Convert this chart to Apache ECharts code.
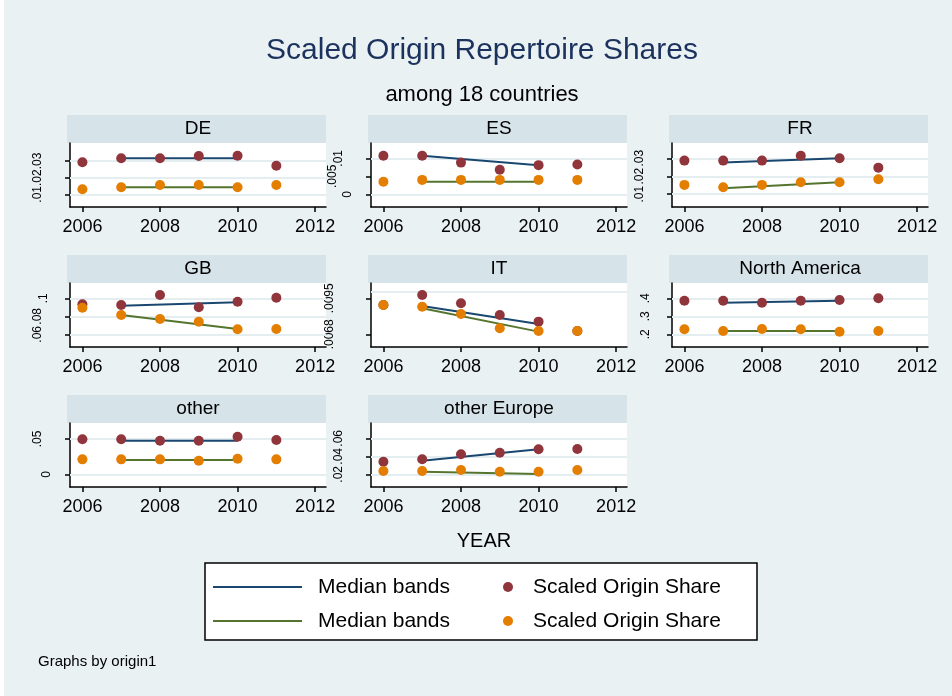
<!DOCTYPE html>
<html><head><meta charset="utf-8">
<script src="https://cdn.jsdelivr.net/npm/echarts@6/dist/echarts.min.js"></script>
<style>html,body{margin:0;padding:0;background:#fff}#c{width:952px;height:696px}</style>
</head><body><div id="c"></div>
<script>
// ---------- data ----------
const years = [2006, 2007, 2008, 2009, 2010, 2011];
const bandYears = [2007, 2010];
const xTicks = [2006, 2008, 2010, 2012];
const xRange = [2005.68, 2012.28];

const DE_share1 = [0.0292, 0.0316, 0.0316, 0.0330, 0.0332, 0.0272];
const DE_share2 = [0.0130, 0.0142, 0.0156, 0.0156, 0.0142, 0.0156];
const DE_band1 = [0.0316, 0.0316];
const DE_band2 = [0.0142, 0.0142];
const DE_ticks = [0.01, 0.02, 0.03];
const DE_range = [0.0024, 0.0408];

const ES_share1 = [0.0107, 0.0107, 0.0088, 0.0068, 0.0081, 0.0083];
const ES_share2 = [0.0035, 0.0040, 0.0040, 0.0040, 0.0040, 0.0040];
const ES_band1 = [0.0107, 0.0081];
const ES_band2 = [0.0035, 0.0035];
const ES_ticks = [0, 0.005, 0.01];
const ES_range = [-0.00353, 0.01425];

const FR_share1 = [0.0287, 0.0287, 0.0287, 0.0314, 0.0300, 0.0248];
const FR_share2 = [0.0152, 0.0139, 0.0152, 0.0167, 0.0167, 0.0183];
const FR_band1 = [0.0276, 0.0300];
const FR_band2 = [0.0133, 0.0167];
const FR_ticks = [0.01, 0.02, 0.03];
const FR_range = [0.0029, 0.0385];

const GB_share1 = [0.0933, 0.0926, 0.1037, 0.0900, 0.0962, 0.1007];
const GB_share2 = [0.0896, 0.0814, 0.0770, 0.0740, 0.0656, 0.0659];
const GB_band1 = [0.0918, 0.0956];
const GB_band2 = [0.0814, 0.0659];
const GB_ticks = [0.06, 0.08, 0.1];
const GB_range = [0.0459, 0.117];

const IT_share1 = [0.00900, 0.00975, 0.00913, 0.00825, 0.00775, 0.00705];
const IT_share2 = [0.00900, 0.00887, 0.00832, 0.00725, 0.00705, 0.00705];
const IT_band1 = [0.00892, 0.00757];
const IT_band2 = [0.00875, 0.00700];
const IT_ticks = [0.0068, 0.0095];
const IT_range = [0.005847, 0.010648];

const NA_share1 = [0.3867, 0.3867, 0.3756, 0.3867, 0.3906, 0.4000];
const NA_share2 = [0.2278, 0.2183, 0.2294, 0.2278, 0.2144, 0.2183];
const NA_band1 = [0.3756, 0.3867];
const NA_band2 = [0.2183, 0.2183];
const NA_ticks = [0.2, 0.3, 0.4];
const NA_range = [0.1294, 0.485];

const OT_share1 = [0.0496, 0.0496, 0.0476, 0.0476, 0.0533, 0.0486];
const OT_share2 = [0.0212, 0.0212, 0.0212, 0.0193, 0.0221, 0.0212];
const OT_band1 = [0.0476, 0.0476];
const OT_band2 = [0.0203, 0.0203];
const OT_ticks = [0, 0.05];
const OT_range = [-0.018, 0.0727];

const OE_share1 = [0.0340, 0.0367, 0.0422, 0.0440, 0.0478, 0.0481];
const OE_share2 = [0.0237, 0.0237, 0.0248, 0.0229, 0.0229, 0.0248];
const OE_band1 = [0.0351, 0.0478];
const OE_band2 = [0.0229, 0.0203];
const OE_ticks = [0.02, 0.04, 0.06];
const OE_range = [0.0059, 0.077];

const panels = [
  {name: 'DE', s1: DE_share1, s2: DE_share2, b1: DE_band1, b2: DE_band2, ticks: DE_ticks, range: DE_range},
  {name: 'ES', s1: ES_share1, s2: ES_share2, b1: ES_band1, b2: ES_band2, ticks: ES_ticks, range: ES_range},
  {name: 'FR', s1: FR_share1, s2: FR_share2, b1: FR_band1, b2: FR_band2, ticks: FR_ticks, range: FR_range},
  {name: 'GB', s1: GB_share1, s2: GB_share2, b1: GB_band1, b2: GB_band2, ticks: GB_ticks, range: GB_range},
  {name: 'IT', s1: IT_share1, s2: IT_share2, b1: IT_band1, b2: IT_band2, ticks: IT_ticks, range: IT_range},
  {name: 'North America', s1: NA_share1, s2: NA_share2, b1: NA_band1, b2: NA_band2, ticks: NA_ticks, range: NA_range},
  {name: 'other', s1: OT_share1, s2: OT_share2, b1: OT_band1, b2: OT_band2, ticks: OT_ticks, range: OT_range},
  {name: 'other Europe', s1: OE_share1, s2: OE_share2, b1: OE_band1, b2: OE_band2, ticks: OE_ticks, range: OE_range}
];

// ---------- layout / style ----------
const FONT = 'Liberation Sans, Arial, Helvetica, sans-serif';
const colX = [70, 371, 672];
const rowY = [143, 283, 423];
const PW = 256, PH = 64;
const C_NAVY = '#1a476f', C_MAROON = '#90353b', C_GREEN = '#55752f', C_ORANGE = '#e37e00';
const GRID_LINE = '#e4edf0';

function fmtY(v) {
  let s = String(+v.toPrecision(6));
  s = s.replace(/^0\./, '.').replace(/^-0\./, '-.');
  return s;
}
// rotated labels shift left by their own length (Stata-like placement)
const richY = {};
const padByLen = {1: 7, 2: 10, 3: 16, 4: 22, 5: 25};
for (const k in padByLen) richY['l' + k] = {fontSize: 12, fontFamily: FONT, color: '#000', padding: [0, 0, padByLen[k], 0]};

const grids = [], xAxes = [], yAxes = [], series = [], graphics = [];

graphics.push({type: 'rect', shape: {x: 0, y: 0, width: 4, height: 696}, style: {fill: '#ffffff'}, silent: true});

panels.forEach((p, i) => {
  const c = i % 3, r = Math.floor(i / 3);
  const left = colX[c], top = rowY[r];
  grids.push({left: left, top: top, width: PW, height: PH, show: true, backgroundColor: '#ffffff', borderWidth: 0, containLabel: false});
  graphics.push({type: 'rect', shape: {x: left - 3, y: top - 28, width: PW + 3, height: 28}, style: {fill: '#d6e3e9'}, silent: true});
  graphics.push({type: 'text', x: left + PW / 2, y: top - 14, style: {text: p.name, fill: '#000', font: '19px ' + FONT, align: 'center', verticalAlign: 'middle'}, silent: true});
  xAxes.push({
    gridIndex: i, type: 'value', min: xRange[0], max: xRange[1],
    axisLine: {show: true, onZero: false, lineStyle: {color: '#000', width: 1.5}},
    axisTick: {show: true, length: 5, customValues: xTicks, lineStyle: {color: '#000', width: 1.5}},
    axisLabel: {customValues: xTicks, formatter: v => String(v), fontSize: 18, fontFamily: FONT, color: '#000', margin: 11,
      showMinLabel: true, showMaxLabel: true},
    splitLine: {show: false}
  });
  // main y axis (line only)
  const yIdx = yAxes.length;
  yAxes.push({
    gridIndex: i, type: 'value', position: 'left', min: p.range[0], max: p.range[1],
    axisLine: {show: true, onZero: false, lineStyle: {color: '#000', width: 1.5}},
    axisTick: {show: false}, axisLabel: {show: false}, splitLine: {show: false}
  });
  // one label axis per tick so that overlapping rotated labels all stay visible
  p.ticks.forEach(t => {
    yAxes.push({
      gridIndex: i, type: 'value', position: 'left', min: p.range[0], max: p.range[1],
      axisLine: {show: false, onZero: false},
      axisTick: {show: true, length: 5, customValues: [t], lineStyle: {color: '#000', width: 1.5}},
      axisLabel: {
        customValues: [t], rotate: 90, align: 'center', verticalAlign: 'bottom', margin: 10,
        formatter: v => { const s = fmtY(v); return '{l' + s.length + '|' + s + '}'; },
        rich: richY, fontSize: 12, fontFamily: FONT, color: '#000'
      },
      splitLine: {show: false}
    });
  });
  // gridlines at tick values
  series.push({
    type: 'line', xAxisIndex: i, yAxisIndex: yIdx, data: [], silent: true, z: 1,
    markLine: {silent: true, z: 1, symbol: 'none', label: {show: false}, animation: false,
      lineStyle: {color: GRID_LINE, width: 2, type: 'solid'},
      data: p.ticks.map(t => ({yAxis: t}))}
  });
  series.push({
    name: 'Median bands|1', type: 'line', xAxisIndex: i, yAxisIndex: yIdx,
    data: bandYears.map((y, k) => [y, p.b1[k]]), symbol: 'none', z: 2,
    lineStyle: {color: C_NAVY, width: 2}, itemStyle: {color: C_NAVY}
  });
  series.push({
    name: 'Scaled Origin Share|1', type: 'scatter', xAxisIndex: i, yAxisIndex: yIdx,
    data: years.map((y, k) => [y, p.s1[k]]), symbol: 'circle', symbolSize: 10, z: 2,
    itemStyle: {color: C_MAROON, opacity: 1}
  });
  series.push({
    name: 'Median bands|2', type: 'line', xAxisIndex: i, yAxisIndex: yIdx,
    data: bandYears.map((y, k) => [y, p.b2[k]]), symbol: 'none', z: 2,
    lineStyle: {color: C_GREEN, width: 2}, itemStyle: {color: C_GREEN}
  });
  series.push({
    name: 'Scaled Origin Share|2', type: 'scatter', xAxisIndex: i, yAxisIndex: yIdx,
    data: years.map((y, k) => [y, p.s2[k]]), symbol: 'circle', symbolSize: 10, z: 2,
    itemStyle: {color: C_ORANGE, opacity: 1}
  });
});

// legend box
graphics.push({type: 'rect', shape: {x: 205, y: 563, width: 552, height: 77}, style: {fill: '#ffffff', stroke: '#000', lineWidth: 1.5}, silent: true});
// axis title & note
graphics.push({type: 'text', x: 484, y: 541, style: {text: 'YEAR', fill: '#000', font: '20px ' + FONT, align: 'center', verticalAlign: 'middle'}, silent: true});
graphics.push({type: 'text', x: 38, y: 662, style: {text: 'Graphs by origin1', fill: '#000', font: '15px ' + FONT, align: 'left', verticalAlign: 'middle'}, silent: true});

const legendFmt = name => name.split('|')[0];
const option = {
  animation: false,
  backgroundColor: '#eaf1f3',
  title: [
    {text: 'Scaled Origin Repertoire Shares', left: 482, top: 36, textAlign: 'center', padding: 0,
      textStyle: {fontSize: 30, fontWeight: 'normal', color: '#1c325e', fontFamily: FONT}},
    {text: 'among 18 countries', left: 482, top: 84, textAlign: 'center', padding: 0,
      textStyle: {fontSize: 22, fontWeight: 'normal', color: '#000', fontFamily: FONT}}
  ],
  legend: [
    {data: ['Median bands|1', 'Median bands|2'], orient: 'vertical', left: 213, top: 575, padding: 0,
      itemWidth: 89, itemHeight: 2, itemGap: 10, selectedMode: false, formatter: legendFmt, icon: 'rect',
      textStyle: {fontSize: 21, color: '#000', fontFamily: FONT, lineHeight: 24, padding: [0, 0, 0, 11]}},
    {data: ['Scaled Origin Share|1', 'Scaled Origin Share|2'], orient: 'vertical', left: 503, top: 575, padding: 0,
      itemWidth: 10, itemHeight: 10, itemGap: 10, selectedMode: false, formatter: legendFmt, icon: 'circle',
      textStyle: {fontSize: 21, color: '#000', fontFamily: FONT, lineHeight: 24, padding: [0, 0, 0, 15]}}
  ],
  grid: grids,
  xAxis: xAxes,
  yAxis: yAxes,
  series: series,
  graphic: {elements: graphics}
};
const chart = echarts.init(document.getElementById('c'), null, {renderer: 'canvas'});
chart.setOption(option);
</script>
</body></html>
